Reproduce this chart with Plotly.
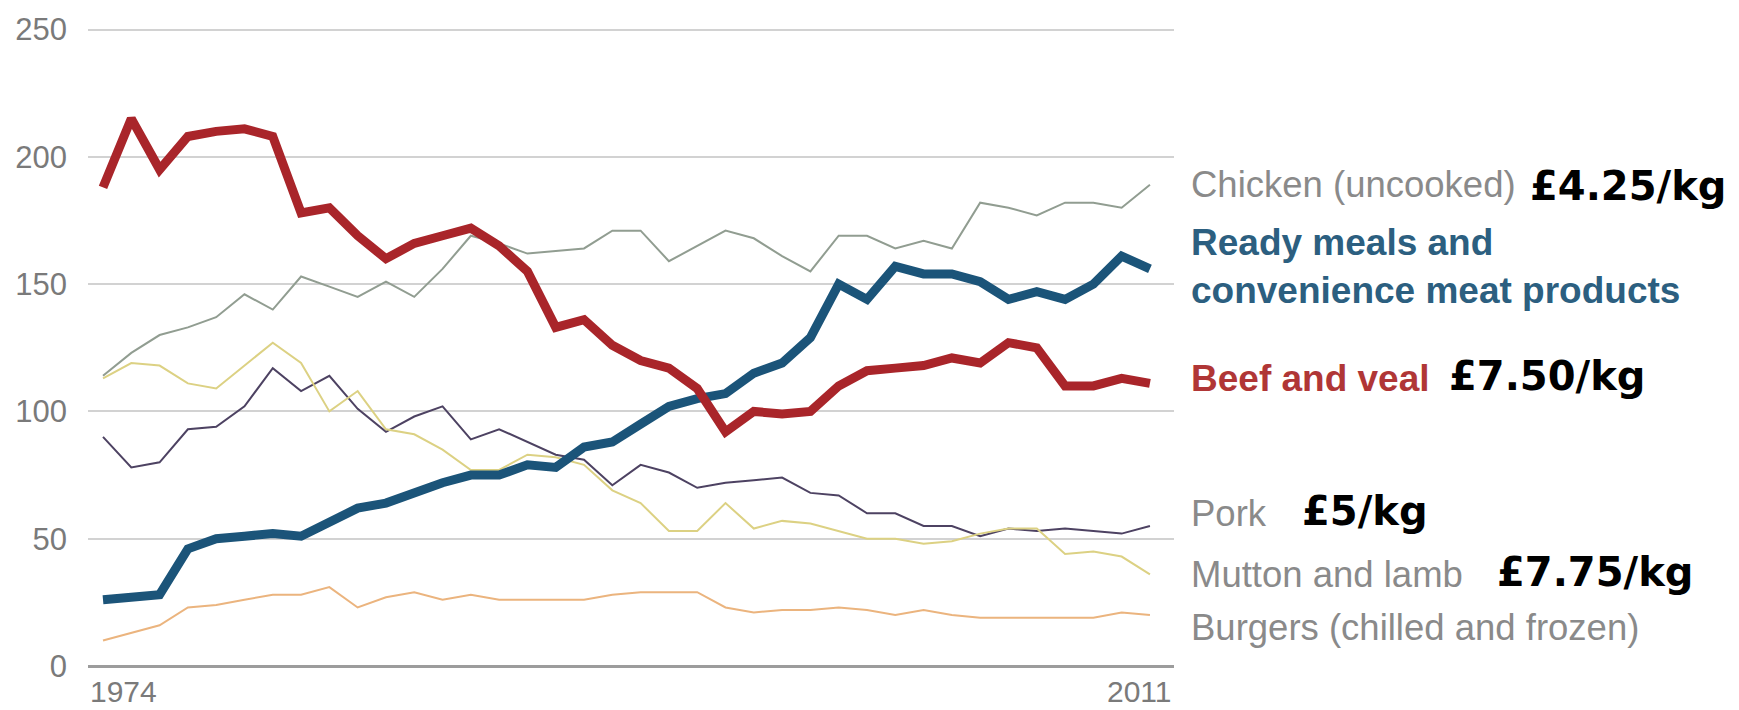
import plotly.graph_objects as go

years = list(range(1974, 2012))

chicken = [114, 123, 130, 133, 137, 146, 140, 153, 149, 145,
           151, 145, 156, 169, 166, 162, 163, 164, 171, 171,
           159, 165, 171, 168, 161, 155, 169, 169, 164, 167,
           164, 182, 180, 177, 182, 182, 180, 189]
ready_meals = [26, 27, 28, 46, 50, 51, 52, 51, 57, 62,
               64, 68, 72, 75, 75, 79, 78, 86, 88, 95,
               102, 105, 107, 115, 119, 129, 150, 144, 157, 154,
               154, 151, 144, 147, 144, 150, 161, 156]
beef = [188, 215, 195, 208, 210, 211, 208, 178, 180, 169,
        160, 166, 169, 172, 165, 155, 133, 136, 126, 120,
        117, 109, 92, 100, 99, 100, 110, 116, 117, 118,
        121, 119, 127, 125, 110, 110, 113, 111]
pork = [90, 78, 80, 93, 94, 102, 117, 108, 114, 101,
        92, 98, 102, 89, 93, 88, 83, 81, 71, 79,
        76, 70, 72, 73, 74, 68, 67, 60, 60, 55,
        55, 51, 54, 53, 54, 53, 52, 55]
mutton = [113, 119, 118, 111, 109, 118, 127, 119, 100, 108,
          93, 91, 85, 77, 77, 83, 82, 79, 69, 64,
          53, 53, 64, 54, 57, 56, 53, 50, 50, 48,
          49, 52, 54, 54, 44, 45, 43, 36]
burgers = [10, 13, 16, 23, 24, 26, 28, 28, 31, 23,
           27, 29, 26, 28, 26, 26, 26, 26, 28, 29,
           29, 29, 23, 21, 22, 22, 23, 22, 20, 22,
           20, 19, 19, 19, 19, 19, 21, 20]

y_ticks = [0, 50, 100, 150, 200, 250]
x_labels = ["1974", "2011"]

series_names = ["Chicken (uncooked)",
                "Ready meals and<br>convenience meat products",
                "Beef and veal", "Pork", "Mutton and lamb",
                "Burgers (chilled and frozen)"]
prices = ["£4.25/kg", "£7.50/kg", "£5/kg", "£7.75/kg"]

# styles / positions (kept separate from data)
label_y = [189, 157, 113, 60, 36, 15]
label_colors = ["#8a8a8a", "#2c5f80", "#b03636", "#8a8a8a", "#8a8a8a", "#8a8a8a"]
label_bold = [False, True, True, False, False, False]
label_size = [36.5, 37, 37, 36.5, 36.5, 36.5]
price_y = [188.5, 114, 61, 37]
price_xshift = [354, 273, 126, 321]

fig = go.Figure()

thin = [(chicken, "#919d91"), (pork, "#4d4262"), (mutton, "#dcd183"), (burgers, "#ebb47e")]
for vals, col in thin:
    fig.add_trace(go.Scatter(x=years, y=vals, mode="lines",
                             line=dict(color=col, width=2),
                             hoverinfo="skip", showlegend=False))
fig.add_trace(go.Scatter(x=years, y=ready_meals, mode="lines",
                         line=dict(color="#1b5479", width=9),
                         hoverinfo="skip", showlegend=False))
fig.add_trace(go.Scatter(x=years, y=beef, mode="lines",
                         line=dict(color="#a9252a", width=9),
                         hoverinfo="skip", showlegend=False))

annotations = []
annotations.append(dict(text=x_labels[0], xref="paper", yref="paper", x=0, y=0,
                        xanchor="left", yanchor="middle", yshift=-25, showarrow=False,
                        font=dict(family="Liberation Sans", size=30, color="#7a7a7a")))
annotations.append(dict(text=x_labels[1], xref="paper", yref="paper", x=1, y=0,
                        xanchor="right", yanchor="middle", yshift=-25, showarrow=False,
                        font=dict(family="Liberation Sans", size=30, color="#7a7a7a")))

for name, ly, col, bold, sz in zip(series_names, label_y, label_colors, label_bold, label_size):
    annotations.append(dict(text=(f"<b>{name}</b>" if bold else name),
                            xref="paper", yref="y", x=1, y=ly, xshift=15,
                            xanchor="left", yanchor="middle", align="left",
                            showarrow=False,
                            font=dict(family="Liberation Sans", size=sz, color=col)))

for p, py, px in zip(prices, price_y, price_xshift):
    annotations.append(dict(text=f"<b>{p}</b>", xref="paper", yref="y", x=1, y=py,
                            xshift=px, xanchor="left", yanchor="middle",
                            showarrow=False,
                            font=dict(family="DejaVu Sans", size=40, color="#000000")))

fig.update_layout(
    width=1739, height=710,
    margin=dict(l=88, r=565, t=25, b=44),
    paper_bgcolor="white", plot_bgcolor="white",
    annotations=annotations,
    xaxis=dict(range=[1973.47, 2011.85], showgrid=False, showticklabels=False,
               zeroline=False, showline=False, ticks=""),
    yaxis=dict(range=[0, 250.6], tickvals=y_ticks, showgrid=True,
               gridcolor="#d2d2d2", gridwidth=2,
               zeroline=True, zerolinecolor="#9c9c9c", zerolinewidth=3,
               showline=False, ticks="", ticklabelstandoff=20,
               tickfont=dict(family="Liberation Sans", size=31, color="#7a7a7a")),
)

fig.write_html("out.html")
